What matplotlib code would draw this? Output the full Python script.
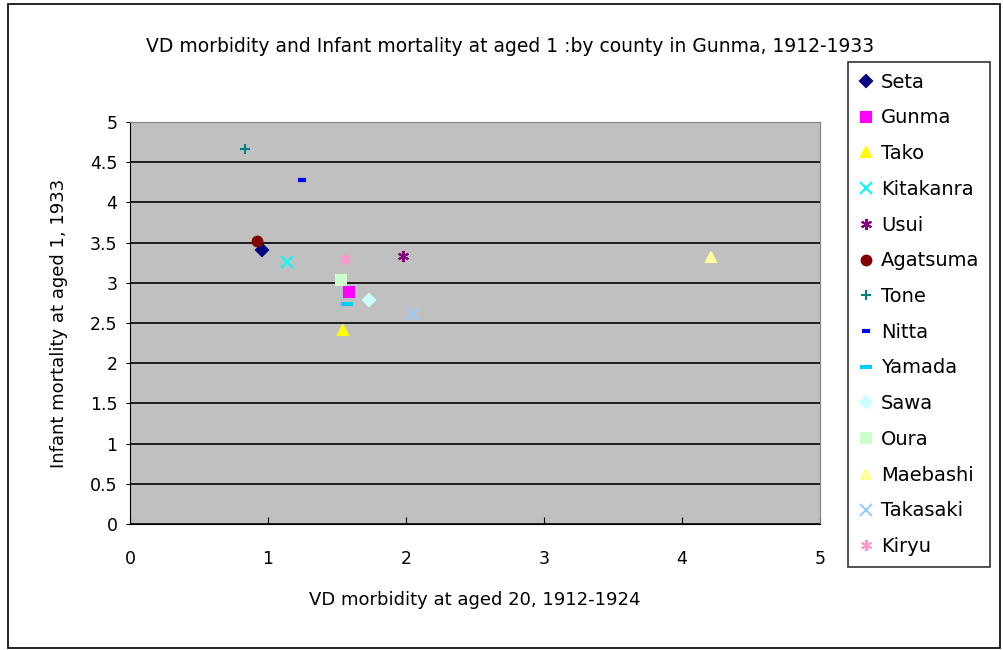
import numpy as np
from matplotlib import pyplot as plt
from matplotlib.patches import Rectangle

# county data
counties = ['Seta', 'Gunma', 'Tako', 'Kitakanra', 'Usui', 'Agatsuma', 'Tone',
            'Nitta', 'Yamada', 'Sawa', 'Oura', 'Maebashi', 'Takasaki', 'Kiryu']
vd_morbidity = [0.96, 1.59, 1.54, 1.14, 1.98, 0.92, 0.83,
                1.25, 1.57, 1.73, 1.53, 4.21, 2.05, 1.56]
infant_mortality = [3.41, 2.89, 2.41, 3.26, 3.33, 3.52, 4.66,
                    4.28, 2.74, 2.79, 3.03, 3.32, 2.61, 3.30]

colors = ['#000080', '#FF00FF', '#FFFF00', '#00FFFF', '#800080', '#800000', '#008080',
          '#0000FF', '#00CCFF', '#CCFFFF', '#CCFFCC', '#FFFF99', '#99CCFF', '#FF99CC']
markers = ['D', 's', '^', 'x', (6, 2, 0), 'o', '+',
           '_', '_', 'D', 's', '^', 'x', (6, 2, 0)]
sizes = [6, 7, 7, 8, 8, 7, 7, 6, 9, 6, 7, 7, 8, 8]

fig = plt.figure(figsize=(10.04, 6.5), dpi=100)
fig.patches.append(Rectangle((8/1004, 2/650), 992/1004, 644/650, transform=fig.transFigure,
                             fill=False, edgecolor='black', linewidth=1.2))

ax = fig.add_axes([130/1004, 1-524/650, 690/1004, 402/650])
ax.set_facecolor('#C0C0C0')
for i in range(len(counties)):
    lw = 3 if markers[i] == '_' else 1.5
    ax.plot(vd_morbidity[i], infant_mortality[i], linestyle='none', marker=markers[i],
            color=colors[i], markersize=sizes[i], markeredgewidth=lw, label=counties[i])

ax.set_xlim(0, 5)
ax.set_ylim(0, 5)
ax.set_xticks(np.arange(0, 6, 1))
ax.set_yticks(np.arange(0, 5.5, 0.5))
ax.set_yticklabels(['0', '0.5', '1', '1.5', '2', '2.5', '3', '3.5', '4', '4.5', '5'])
ax.yaxis.grid(True, color='black', linewidth=1.2)
ax.set_axisbelow(True)
ax.spines['left'].set_color('black')
ax.spines['bottom'].set_color('black')
ax.spines['top'].set_color('#808080')
ax.spines['right'].set_color('#808080')
ax.tick_params(axis='both', labelsize=12.5)
ax.tick_params(axis='x', direction='in', length=5, pad=19)
ax.tick_params(axis='y', direction='out', length=3, pad=6)

ax.set_xlabel('VD morbidity at aged 20, 1912-1924', fontsize=13, labelpad=16)
ax.set_ylabel('Infant mortality at aged 1, 1933', fontsize=13, labelpad=16)
fig.text(510/1004, 1-46/650, 'VD morbidity and Infant mortality at aged 1 :by county in Gunma, 1912-1933',
         ha='center', va='center', fontsize=13.5)

leg = fig.legend(loc='upper left', bbox_to_anchor=(848/1004, 1-62/650), fontsize=14,
                 frameon=True, fancybox=False, edgecolor='black', handlelength=0.8,
                 handletextpad=0.35, labelspacing=0.86, borderpad=0.55, borderaxespad=0,
                 numpoints=1)
leg.get_frame().set_linewidth(1.2)

fig.savefig('out.png', dpi=100)
